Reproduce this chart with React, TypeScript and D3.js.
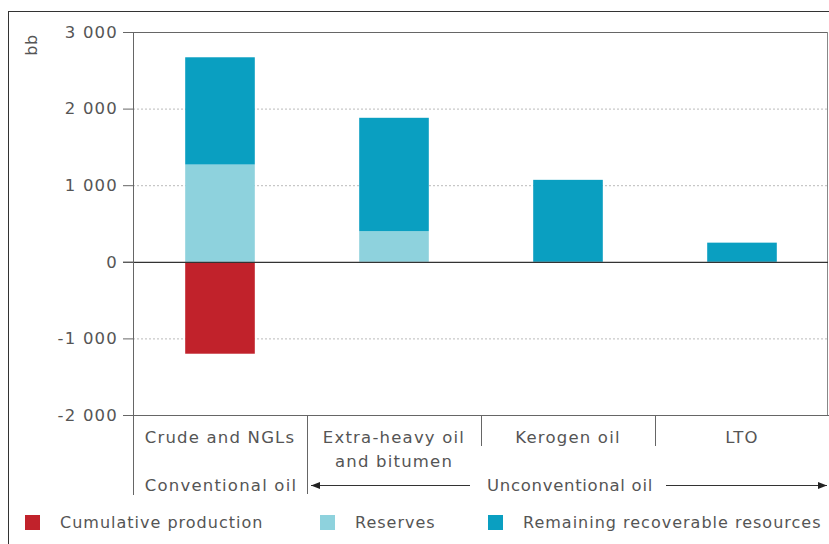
import React, { useEffect, useRef } from "react";
import * as d3 from "d3";

const categories = ["Crude and NGLs", "Extra-heavy oil|and bitumen", "Kerogen oil", "LTO"];
const cumulativeProduction = [-1200, 0, 0, 0];
const reserves = [1270, 400, 0, 0];
const remaining = [1400, 1480, 1070, 250];
const yTicks = [-2000, -1000, 0, 1000, 2000, 3000];

const seriesNames = ["Cumulative production", "Reserves", "Remaining recoverable resources"];
const seriesColors = ["#c1222b", "#8ed2dd", "#0a9fc1"];

const width = 829;
const height = 544;
const font = "'DejaVu Sans', sans-serif";
const textColor = "#555";

export default function App() {
  const ref = useRef<SVGSVGElement>(null);

  useEffect(() => {
    const svg = d3.select(ref.current);
    svg.selectAll("*").remove();

    const x = d3.scaleBand().domain(categories).range([133, 829]).paddingInner(0.6).paddingOuter(0.3);
    const y = d3.scaleLinear().domain([-2000, 3000]).range([415, 32]);
    const fmt = (v: number) => d3.format(",")(v).replace(",", " ").replace("\u2212", "-");

    const label = (sel: any, size = 16.5, ls = 1.2) =>
      sel.attr("font-family", font).attr("font-size", size).attr("letter-spacing", ls).attr("fill", textColor);

    // outer frame
    svg.append("line").attr("x1", 8.5).attr("x2", 8.5).attr("y1", 11).attr("y2", height).attr("stroke", "#333");
    svg.append("line").attr("x1", 8).attr("x2", width).attr("y1", 11.5).attr("y2", 11.5).attr("stroke", "#333");

    // dotted grid
    svg.selectAll(".grid")
      .data(yTicks.filter(t => t !== 0 && t !== 3000 && t !== -2000))
      .enter().append("line")
      .attr("x1", 133).attr("x2", 828)
      .attr("y1", d => y(d) + 0.5).attr("y2", d => y(d) + 0.5)
      .attr("stroke", "#bbb").attr("stroke-dasharray", "2,2");

    // plot frame
    svg.append("line").attr("x1", 123).attr("x2", 828).attr("y1", y(3000) + 0.5).attr("y2", y(3000) + 0.5).attr("stroke", "#666");
    svg.append("line").attr("x1", 827.5).attr("x2", 827.5).attr("y1", y(3000)).attr("y2", y(-2000)).attr("stroke", "#888");
    svg.append("line").attr("x1", 123).attr("x2", 829).attr("y1", y(-2000) + 0.5).attr("y2", y(-2000) + 0.5).attr("stroke", "#666");

    // stacked bars
    const layers = [
      categories.map((c, i) => ({ c, y0: 0, y1: cumulativeProduction[i] })),
      categories.map((c, i) => ({ c, y0: 0, y1: reserves[i] })),
      categories.map((c, i) => ({ c, y0: reserves[i], y1: reserves[i] + remaining[i] })),
    ];
    layers.forEach((layer, li) => {
      svg.append("g").selectAll("rect")
        .data(layer.filter(d => d.y1 !== d.y0))
        .enter().append("rect")
        .attr("x", d => x(d.c)!)
        .attr("width", x.bandwidth())
        .attr("y", d => y(Math.max(d.y0, d.y1)))
        .attr("height", d => Math.abs(y(d.y0) - y(d.y1)))
        .attr("fill", seriesColors[li]);
    });

    // zero line
    svg.append("line").attr("x1", 123).attr("x2", 828).attr("y1", y(0) + 0.5).attr("y2", y(0) + 0.5).attr("stroke", "#333").attr("stroke-width", 1.2);

    // y axis
    svg.append("line").attr("x1", 133.5).attr("x2", 133.5).attr("y1", y(3000)).attr("y2", 495).attr("stroke", "#666");
    const yt = svg.append("g").selectAll("g").data(yTicks).enter().append("g");
    yt.append("line").attr("x1", 123).attr("x2", 133).attr("y1", d => y(d) + 0.5).attr("y2", d => y(d) + 0.5).attr("stroke", "#666");
    label(yt.append("text").attr("x", 118).attr("y", d => y(d)).attr("dy", "0.35em").attr("text-anchor", "end"))
      .text(d => fmt(d));

    label(svg.append("text").attr("transform", "translate(37,45) rotate(-90)").attr("text-anchor", "middle"), 16, 0.5)
      .text("bb");

    // category dividers
    const step = x.step();
    categories.forEach((c, i) => {
      if (i === 0) return;
      const xd = Math.round(x(c)! - step * 0.3) + 0.5;
      svg.append("line").attr("x1", xd).attr("x2", xd).attr("y1", 415).attr("y2", i === 1 ? 494 : 446).attr("stroke", "#666");
    });

    // category labels
    categories.forEach(c => {
      const cx = x(c)! + x.bandwidth() / 2;
      c.split("|").forEach((l, k) => {
        label(svg.append("text").attr("x", cx).attr("y", 443 + k * 24).attr("text-anchor", "middle")).text(l);
      });
    });

    // group labels
    const gy = 491;
    label(svg.append("text").attr("x", 221).attr("y", gy).attr("text-anchor", "middle")).text("Conventional oil");
    label(svg.append("text").attr("x", 570).attr("y", gy).attr("text-anchor", "middle"), 16.5, 0.7).text("Unconventional oil");

    const defs = svg.append("defs");
    defs.append("marker").attr("id", "arr").attr("viewBox", "0 0 10 10").attr("refX", 10).attr("refY", 5)
      .attr("markerWidth", 9).attr("markerHeight", 9).attr("orient", "auto-start-reverse")
      .append("path").attr("d", "M0,1L10,5L0,9Z").attr("fill", "#222");
    const ay = gy - 5.5;
    svg.append("line").attr("x1", 311).attr("x2", 470).attr("y1", ay).attr("y2", ay)
      .attr("stroke", "#333").attr("marker-start", "url(#arr)");
    svg.append("line").attr("x1", 666).attr("x2", 827).attr("y1", ay).attr("y2", ay)
      .attr("stroke", "#333").attr("marker-end", "url(#arr)");

    // legend
    const legendX = [25, 320, 488];
    seriesNames.forEach((n, i) => {
      svg.append("rect").attr("x", legendX[i]).attr("y", 515).attr("width", 15).attr("height", 15).attr("fill", seriesColors[i]);
      label(svg.append("text").attr("x", legendX[i] + 35).attr("y", 528), 16, 1.0).text(n);
    });
  }, []);

  return (
    <svg ref={ref} width={width} height={height}
      style={{ position: "absolute", left: 0, top: 0, background: "#fff" }} />
  );
}
